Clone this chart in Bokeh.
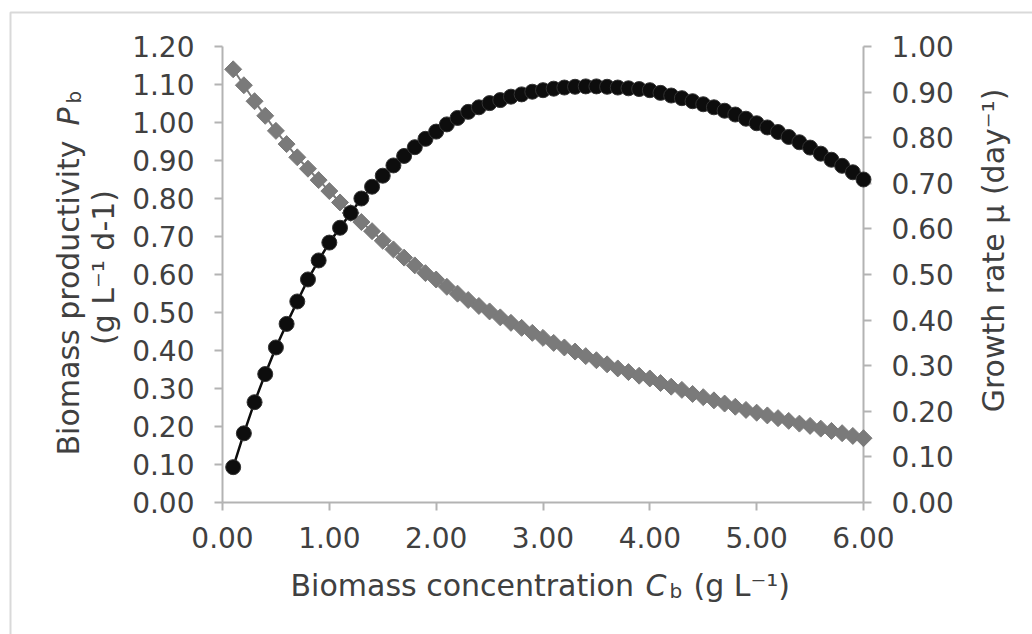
import math
from bokeh.plotting import figure
from bokeh.models import (Range1d, LinearAxis, FixedTicker, NumeralTickFormatter,
                          ColumnDataSource)
from bokeh.core.properties import value
from bokeh.embed import file_html
from bokeh.resources import INLINE

# ---------------- data ----------------
conc = [0.1, 0.2, 0.3, 0.4, 0.5, 0.6, 0.7, 0.8, 0.9, 1.0,
        1.1, 1.2, 1.3, 1.4, 1.5, 1.6, 1.7, 1.8, 1.9, 2.0,
        2.1, 2.2, 2.3, 2.4, 2.5, 2.6, 2.7, 2.8, 2.9, 3.0,
        3.1, 3.2, 3.3, 3.4, 3.5, 3.6, 3.7, 3.8, 3.9, 4.0,
        4.1, 4.2, 4.3, 4.4, 4.5, 4.6, 4.7, 4.8, 4.9, 5.0,
        5.1, 5.2, 5.3, 5.4, 5.5, 5.6, 5.7, 5.8, 5.9, 6.0]

productivity = [0.093, 0.182, 0.264, 0.338, 0.408, 0.470, 0.529, 0.587, 0.637, 0.684,
                0.723, 0.762, 0.800, 0.831, 0.860, 0.887, 0.912, 0.935, 0.957, 0.976,
                0.995, 1.012, 1.028, 1.040, 1.051, 1.059, 1.068, 1.074, 1.081, 1.085,
                1.089, 1.092, 1.094, 1.095, 1.095, 1.094, 1.092, 1.090, 1.088, 1.085,
                1.078, 1.071, 1.064, 1.056, 1.048, 1.040, 1.031, 1.021, 1.010, 0.998,
                0.987, 0.975, 0.962, 0.948, 0.934, 0.918, 0.902, 0.886, 0.869, 0.850]

growth_rate = [0.950, 0.915, 0.880, 0.848, 0.815, 0.786, 0.757, 0.732, 0.707, 0.683,
               0.658, 0.635, 0.615, 0.595, 0.574, 0.555, 0.537, 0.520, 0.503, 0.489,
               0.473, 0.458, 0.444, 0.431, 0.419, 0.406, 0.394, 0.383, 0.372, 0.361,
               0.350, 0.340, 0.331, 0.321, 0.312, 0.303, 0.294, 0.286, 0.278, 0.272,
               0.262, 0.254, 0.247, 0.238, 0.231, 0.224, 0.217, 0.210, 0.203, 0.197,
               0.191, 0.185, 0.179, 0.173, 0.168, 0.162, 0.157, 0.152, 0.146, 0.141]

x_ticks = [0, 1, 2, 3, 4, 5, 6]
left_ticks = [0.0, 0.1, 0.2, 0.3, 0.4, 0.5, 0.6, 0.7, 0.8, 0.9, 1.0, 1.1, 1.2]
right_ticks = [0.0, 0.1, 0.2, 0.3, 0.4, 0.5, 0.6, 0.7, 0.8, 0.9, 1.0]

# ---------------- styles / layout ----------------
FONT = "DejaVu Sans"
TEXT = "#404040"
AXIS = "#b3b3b3"
BLACK = "#0d0d0d"
GRAY = "#7a7a7a"
TICK_SIZE = "28px"
TITLE_SIZE = "30px"
SUB_SIZE = "20px"

W, H = 1032, 634
B_LEFT, B_RIGHT, B_TOP, B_BOTTOM = 222, 169, 46, 132
FRAME_W = W - B_LEFT - B_RIGHT
FRAME_H = H - B_TOP - B_BOTTOM

p = figure(width=W, height=H, output_backend="svg", toolbar_location=None,
           x_range=Range1d(x_ticks[0], x_ticks[-1]),
           y_range=Range1d(left_ticks[0], left_ticks[-1]),
           min_border_left=B_LEFT, min_border_right=B_RIGHT,
           min_border_top=B_TOP, min_border_bottom=B_BOTTOM)
p.extra_y_ranges = {"mu": Range1d(right_ticks[0], right_ticks[-1])}
p.grid.visible = False
p.outline_line_color = None
p.background_fill_color = "white"
p.border_fill_color = "white"


def style_axis(ax, ticks, standoff):
    ax.ticker = FixedTicker(ticks=ticks)
    ax.formatter = NumeralTickFormatter(format="0.00")
    ax.axis_line_color = AXIS
    ax.axis_line_width = 2
    ax.major_tick_line_color = AXIS
    ax.major_tick_line_width = 2
    ax.major_tick_out = 8
    ax.major_tick_in = 0
    ax.minor_tick_line_color = None
    ax.major_label_text_font = FONT
    ax.major_label_text_font_size = TICK_SIZE
    ax.major_label_text_color = TEXT
    ax.major_label_standoff = standoff


style_axis(p.xaxis[0], x_ticks, 16)
style_axis(p.yaxis[0], left_ticks, 20)
right_axis = LinearAxis(y_range_name="mu")
style_axis(right_axis, right_ticks, 20)
p.add_layout(right_axis, "right")

# outer chart-area border (only its top and left edges fall inside the page)
px_x = (x_ticks[-1] - x_ticks[0]) / FRAME_W
px_y = (left_ticks[-1] - left_ticks[0]) / FRAME_H
border = p.quad(left=[x_ticks[0] - (B_LEFT - 10) * px_x],
                right=[x_ticks[-1] + (B_RIGHT + 40) * px_x],
                top=[left_ticks[-1] + (B_TOP - 12) * px_y],
                bottom=[left_ticks[0] - (B_BOTTOM + 40) * px_y],
                fill_alpha=0, line_color="#d9d9d9", line_width=2)
border.level = "overlay"

src = ColumnDataSource(dict(conc=conc, prod=productivity, mu=growth_rate))

# growth rate (right axis) - grey diamonds
p.line("conc", "mu", source=src, y_range_name="mu", line_color=GRAY, line_width=2)
r1 = p.scatter("conc", "mu", source=src, y_range_name="mu", marker="square",
               angle=math.pi / 4, size=12, fill_color=GRAY, line_color=GRAY,
               line_width=1)
r1.level = "overlay"

# productivity (left axis) - black circles
p.line("conc", "prod", source=src, line_color=BLACK, line_width=2.5)
r2 = p.scatter("conc", "prod", source=src, marker="circle", size=15,
               fill_color=BLACK, line_color="#333333", line_width=1)
r2.level = "overlay"


def lab(text, dx, dy, size=TITLE_SIZE, style="normal", angle=0.0,
        align="left", baseline="alphabetic"):
    """Axis-title text, offset in pixels from the frame's lower-left corner."""
    r = p.text(x=[x_ticks[0]], y=[left_ticks[0]], text=[text],
               x_offset=dx, y_offset=dy, angle=angle,
               text_font=value(FONT), text_font_size=value(size),
               text_font_style=value(style), text_color=TEXT,
               text_align=value(align), text_baseline=value(baseline))
    r.level = "overlay"


# x axis title: Biomass concentration C_b (g L^-1)
lab("Biomass concentration", 68, 83)
lab("C", 423, 83, style="italic")
lab("b", 447, 88, size=SUB_SIZE)
lab("(g L\u207b\u00b9)", 471, 83)

# left axis title (two lines, rotated)
ang = math.pi / 2
lab("Biomass productivity", -154, -47, angle=ang)
lab("P", -154, -377, angle=ang, style="italic")
lab("b", -149, -399, size=SUB_SIZE, angle=ang)
lab("(g L\u207b\u00b9 d-1)", -119, -235, angle=ang, align="center")

# right axis title
lab("Growth rate \u03bc (day\u207b\u00b9)", 771, -252, angle=ang, align="center",
    baseline="middle")

open("out.html", "w").write(file_html(p, INLINE))
